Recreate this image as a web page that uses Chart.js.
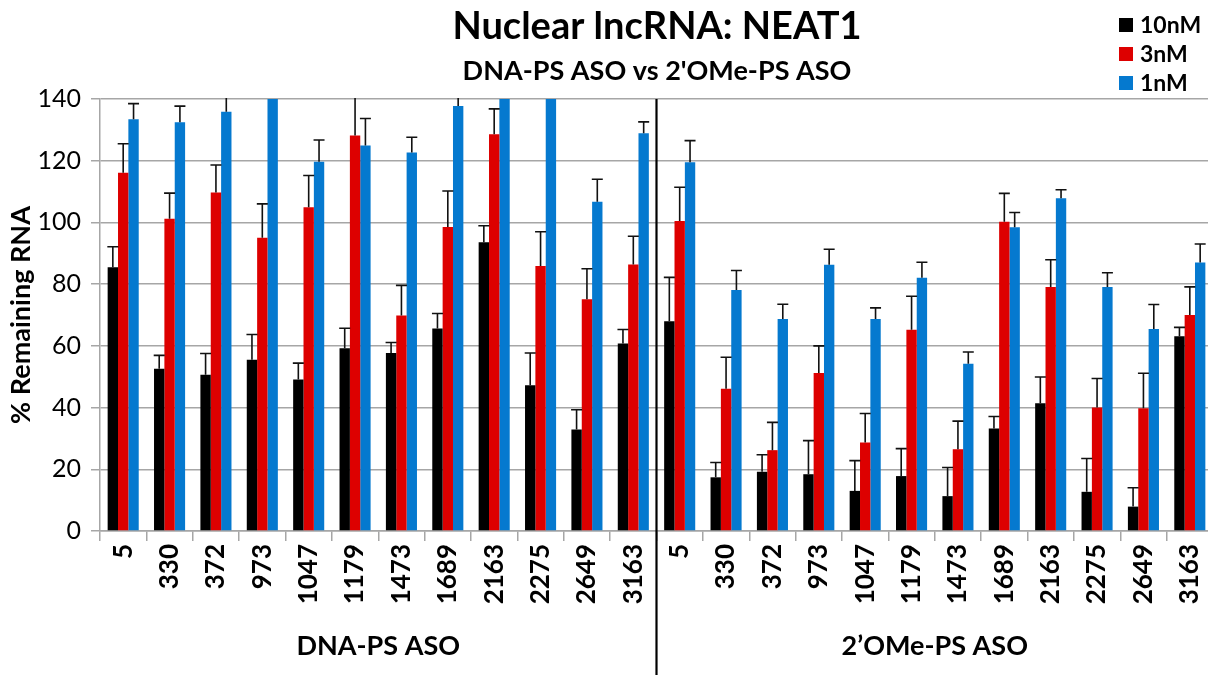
<!DOCTYPE html>
<html>
<head>
<meta charset="utf-8">
<title>Nuclear lncRNA: NEAT1</title>
<script src="https://cdn.jsdelivr.net/npm/chart.js@4.4.1/dist/chart.umd.min.js"></script>
<style>
  html, body { margin: 0; padding: 0; background: #ffffff; overflow: hidden; width: 1208px; height: 675px; }
  #wrap { position: absolute; left: 0; top: 0; width: 1216px; height: 675px; }
</style>
</head>
<body>
<div id="wrap"><canvas id="c" width="1216" height="675"></canvas></div>
<script>
// ASO target sites, repeated for each chemistry
const asoSites = ['5', '330', '372', '973', '1047', '1179', '1473', '1689', '2163', '2275', '2649', '3163'];
const categories = asoSites.concat(asoSites);
const groupNames = ['DNA-PS ASO', '2\u2019OMe-PS ASO'];
const seriesNames = ['10nM', '3nM', '1nM'];
const seriesColors = ['#000000', '#dd0000', '#0579cf'];
const yTicks = [0, 20, 40, 60, 80, 100, 120, 140];

// % remaining RNA (first 12: DNA-PS, last 12: 2'OMe-PS)
const conc10nM = [85.5, 52.6, 50.6, 55.5, 49.1, 59.2, 57.7, 65.6, 93.6, 47.2, 32.9, 60.8,
                  68.0, 17.4, 19.2, 18.4, 13.0, 17.8, 11.3, 33.2, 41.4, 12.7, 7.9, 63.1];
const err10nM  = [6.6, 4.3, 6.9, 8.2, 5.3, 6.5, 3.4, 4.9, 5.3, 10.5, 6.4, 4.5,
                  14.2, 4.8, 5.5, 10.9, 9.8, 8.9, 9.3, 3.9, 8.5, 10.8, 6.1, 2.9];
const conc3nM  = [116.1, 101.2, 109.7, 95.0, 104.9, 128.2, 69.8, 98.5, 128.6, 85.9, 75.1, 86.4,
                  100.5, 46.1, 26.2, 51.2, 28.7, 65.2, 26.5, 100.2, 79.1, 40.0, 39.8, 70.0];
const err3nM   = [9.4, 8.3, 8.9, 11.0, 10.3, 13.0, 9.8, 11.7, 8.2, 11.1, 9.9, 9.1,
                  10.9, 10.2, 9.0, 8.8, 9.4, 10.9, 9.1, 9.2, 8.8, 9.4, 11.3, 9.1];
const conc1nM  = [133.4, 132.5, 135.9, 148.0, 119.7, 124.9, 122.7, 137.7, 145.0, 146.0, 106.7, 128.9,
                  119.5, 78.1, 68.7, 86.3, 68.7, 82.1, 54.2, 98.4, 107.8, 79.1, 65.5, 87.0];
const err1nM   = [5.1, 5.2, 5.0, 6.0, 7.0, 8.8, 4.9, 5.0, 6.0, 6.0, 7.3, 3.7,
                  7.0, 6.3, 4.8, 5.0, 3.6, 5.0, 3.8, 4.8, 2.8, 4.6, 7.9, 6.0];

const seriesValues = [conc10nM, conc3nM, conc1nM];
const seriesErrors = [err10nM, err3nM, err1nM];

const FONT = 'Lato, "Open Sans", "DejaVu Sans", sans-serif';
const GRID = '#a6a6a6';

// Upward-only error bars with a cap, drawn in data space
const errorBars = {
  id: 'errorBars',
  afterDatasetsDraw(chart) {
    const { ctx, chartArea, scales } = chart;
    ctx.save();
    ctx.beginPath();
    ctx.rect(chartArea.left, chartArea.top - 1, chartArea.right - chartArea.left, chartArea.bottom - chartArea.top + 1);
    ctx.clip();
    ctx.strokeStyle = '#111111';
    ctx.lineWidth = 1.6;
    chart.data.datasets.forEach((ds, di) => {
      const meta = chart.getDatasetMeta(di);
      meta.data.forEach((bar, i) => {
        const v = ds.data[i];
        const top = scales.y.getPixelForValue(v + ds.errors[i]);
        const base = scales.y.getPixelForValue(v);
        ctx.beginPath();
        ctx.moveTo(bar.x, base);
        ctx.lineTo(bar.x, top);
        ctx.moveTo(bar.x - 5.5, top);
        ctx.lineTo(bar.x + 5.5, top);
        ctx.stroke();
      });
    });
    ctx.restore();
  }
};

// Titles, legend, group captions and the divider between the two ASO chemistries
const decorations = {
  id: 'decorations',
  afterDraw(chart) {
    const { ctx, chartArea, scales } = chart;
    const x = scales.x;
    ctx.save();
    ctx.fillStyle = '#000000';
    ctx.textAlign = 'center';
    ctx.textBaseline = 'middle';
    ctx.font = 'bold 38px ' + FONT;
    ctx.fillText('Nuclear lncRNA: NEAT1', 657, 27);
    ctx.font = 'bold 27px ' + FONT;
    ctx.fillText("DNA-PS ASO vs 2'OMe-PS ASO", 657, 71);

    // legend
    ctx.textAlign = 'left';
    ctx.font = 'bold 23px ' + FONT;
    const rows = [25, 54, 83];
    chart.data.datasets.forEach((ds, i) => {
      ctx.fillStyle = ds.backgroundColor;
      ctx.fillRect(1119, rows[i] - 7, 14, 14);
      ctx.fillStyle = '#000000';
      ctx.fillText(ds.label, 1140, rows[i] + 1);
    });

    // divider
    const half = asoSites.length;
    const divX = (x.getPixelForTick(half - 1) + x.getPixelForTick(half)) / 2;
    ctx.strokeStyle = '#000000';
    ctx.lineWidth = 2.2;
    ctx.beginPath();
    ctx.moveTo(divX, chartArea.top);
    ctx.lineTo(divX, 675);
    ctx.stroke();

    // group captions
    ctx.textAlign = 'center';
    ctx.font = 'bold 27px ' + FONT;
    groupNames.forEach((name, g) => {
      const a = x.getPixelForTick(g * half + half / 2 - 1);
      const b = x.getPixelForTick(g * half + half / 2);
      ctx.fillText(name, (a + b) / 2, 646);
    });
    ctx.restore();
  }
};

new Chart(document.getElementById('c'), {
  type: 'bar',
  data: {
    labels: categories,
    datasets: seriesNames.map((name, i) => ({
      label: name,
      data: seriesValues[i],
      errors: seriesErrors[i],
      backgroundColor: seriesColors[i],
      borderWidth: 0,
      categoryPercentage: 0.67,
      barPercentage: 1.0
    }))
  },
  options: {
    responsive: false,
    animation: false,
    devicePixelRatio: 1,
    layout: { padding: { top: 99, left: 0, right: 3, bottom: 0 } },
    plugins: {
      legend: { display: false },
      title: { display: false },
      tooltip: { enabled: false }
    },
    scales: {
      x: {
        grid: { display: true, drawOnChartArea: false, drawTicks: true, tickLength: 10, color: GRID, lineWidth: 1.5, offset: true },
        border: { color: GRID, width: 1.5 },
        ticks: {
          minRotation: 90, maxRotation: 90, autoSkip: false, padding: 3,
          color: '#000000',
          font: { family: FONT, size: 26, weight: 'bold' }
        },
        afterFit(scale) {
          scale.height = 144;
          scale.paddingLeft = 0;
          scale.paddingRight = 0;
        }
      },
      y: {
        min: 0, max: 140,
        afterBuildTicks(scale) { scale.ticks = yTicks.map(v => ({ value: v })); },
        grid: { color: GRID, lineWidth: 1.5, tickLength: 9 },
        border: { color: GRID, width: 1.5 },
        ticks: {
          color: '#000000', padding: 10,
          font: { family: FONT, size: 25 }
        },
        title: {
          display: true,
          text: '% Remaining RNA',
          color: '#000000',
          font: { family: FONT, size: 27, weight: 'bold' },
          padding: { top: 5, bottom: 0 }
        },
        afterFit(scale) { scale.width = 100; }
      }
    }
  },
  plugins: [errorBars, decorations]
});
</script>
</body>
</html>
